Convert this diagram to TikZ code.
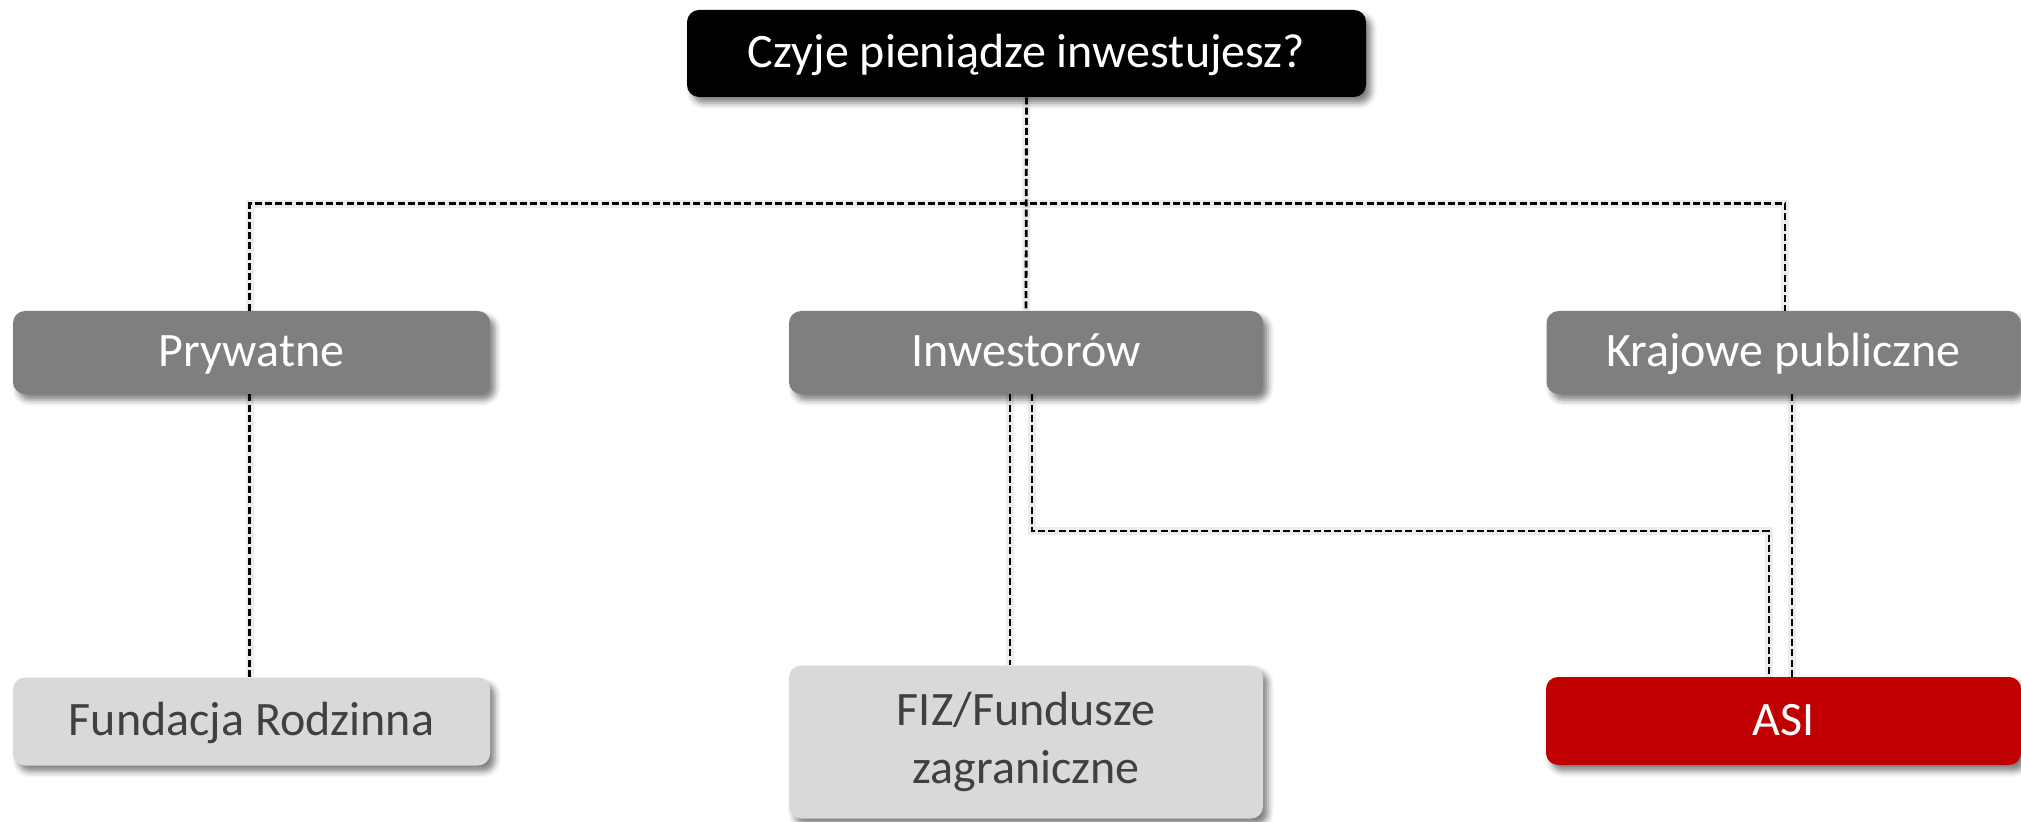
\documentclass[tikz,border=0pt]{standalone}
\usepackage{fontspec}
\setmainfont{Carlito}
\usetikzlibrary{calc,shadows.blur}
\definecolor{boxblack}{HTML}{000000}
\definecolor{boxgray}{HTML}{7F7F7F}
\definecolor{boxlight}{HTML}{D9D9D9}
\definecolor{boxred}{HTML}{C00000}
\definecolor{txtdark}{HTML}{404040}
\tikzset{
  basebox/.style={rectangle, rounded corners=6pt, inner sep=0pt, align=center,
    font=\fontsize{24}{29}\selectfont,
    blur shadow={shadow xshift=2.5pt, shadow yshift=-3pt, shadow blur radius=3pt, shadow opacity=50}},
  oneline/.style={text height=18pt, text depth=4pt},
  topbox/.style={basebox, oneline, fill=boxblack, text=white},
  midbox/.style={basebox, oneline, fill=boxgray, text=white},
  lightbox/.style={basebox, fill=boxlight, text=txtdark},
  redbox/.style={basebox, oneline, fill=boxred, text=white},
  conn/.style={draw=black, line width=1.4pt, dash pattern=on 3.5pt off 1.6pt},
  connshadow/.style={draw=black, opacity=0.07, line width=4pt, shift={(4,4)}}
}
\begin{document}
\begin{tikzpicture}[x=0.5pt, y=-0.5pt]
\useasboundingbox (0,0) rectangle (2021,822);
% nodes
\node[topbox, minimum width=339.5pt, minimum height=43.5pt] (top) at (1026.5,53.5) {Czyje pieniądze inwestujesz?};
\node[midbox, minimum width=238.5pt, minimum height=41.5pt] (prv) at (251.5,352.5) {Prywatne};
\node[midbox, minimum width=237pt, minimum height=41.5pt] (inw) at (1026,352.5) {Inwestorów};
\node[midbox, minimum width=237pt, minimum height=41.5pt] (krj) at (1783.5,352.5) {Krajowe publiczne};
\node[lightbox, oneline, minimum width=238.5pt, minimum height=44pt] (fund) at (251.5,721.5) {Fundacja Rodzinna};
\node[lightbox, minimum width=237pt, minimum height=76.5pt] (fiz) at (1026,742) {FIZ/Fundusze\\zagraniczne};
\node[redbox, minimum width=237.5pt, minimum height=44pt] (asi) at (1783.5,721) {ASI};
% helper coordinates
\coordinate (lc) at (1769,531);
\coordinate (fizA) at ($(inw.south)+(-16,0)$);
\coordinate (asiA) at ($(inw.south)+(6,0)$);
\coordinate (krjA) at ($(krj.south)+(8.5,0)$);
% connector shadows
\draw[connshadow] (top.south) -- (inw.north);
\draw[connshadow] ($(prv.north)+(-2,0)$) -- ++(0,-107) -| ($(krj.north)+(1.5,0)$);
\draw[connshadow] ($(prv.south)+(-2,0)$) -- ($(fund.north)+(-2,0)$);
\draw[connshadow] (fizA) -- (fizA |- fiz.north);
\draw[connshadow] (asiA) |- (lc) -- (lc |- asi.north);
\draw[connshadow] (krjA) -- (krjA |- asi.north);
% connectors
\draw[conn] (top.south) -- (inw.north);
\draw[conn] ($(prv.north)+(-2,0)$) -- ++(0,-107) -| ($(krj.north)+(1.5,0)$);
\draw[conn] ($(prv.south)+(-2,0)$) -- ($(fund.north)+(-2,0)$);
\draw[conn] (fizA) -- (fizA |- fiz.north);
\draw[conn] (asiA) |- (lc) -- (lc |- asi.north);
\draw[conn] (krjA) -- (krjA |- asi.north);
\end{tikzpicture}
\end{document}
